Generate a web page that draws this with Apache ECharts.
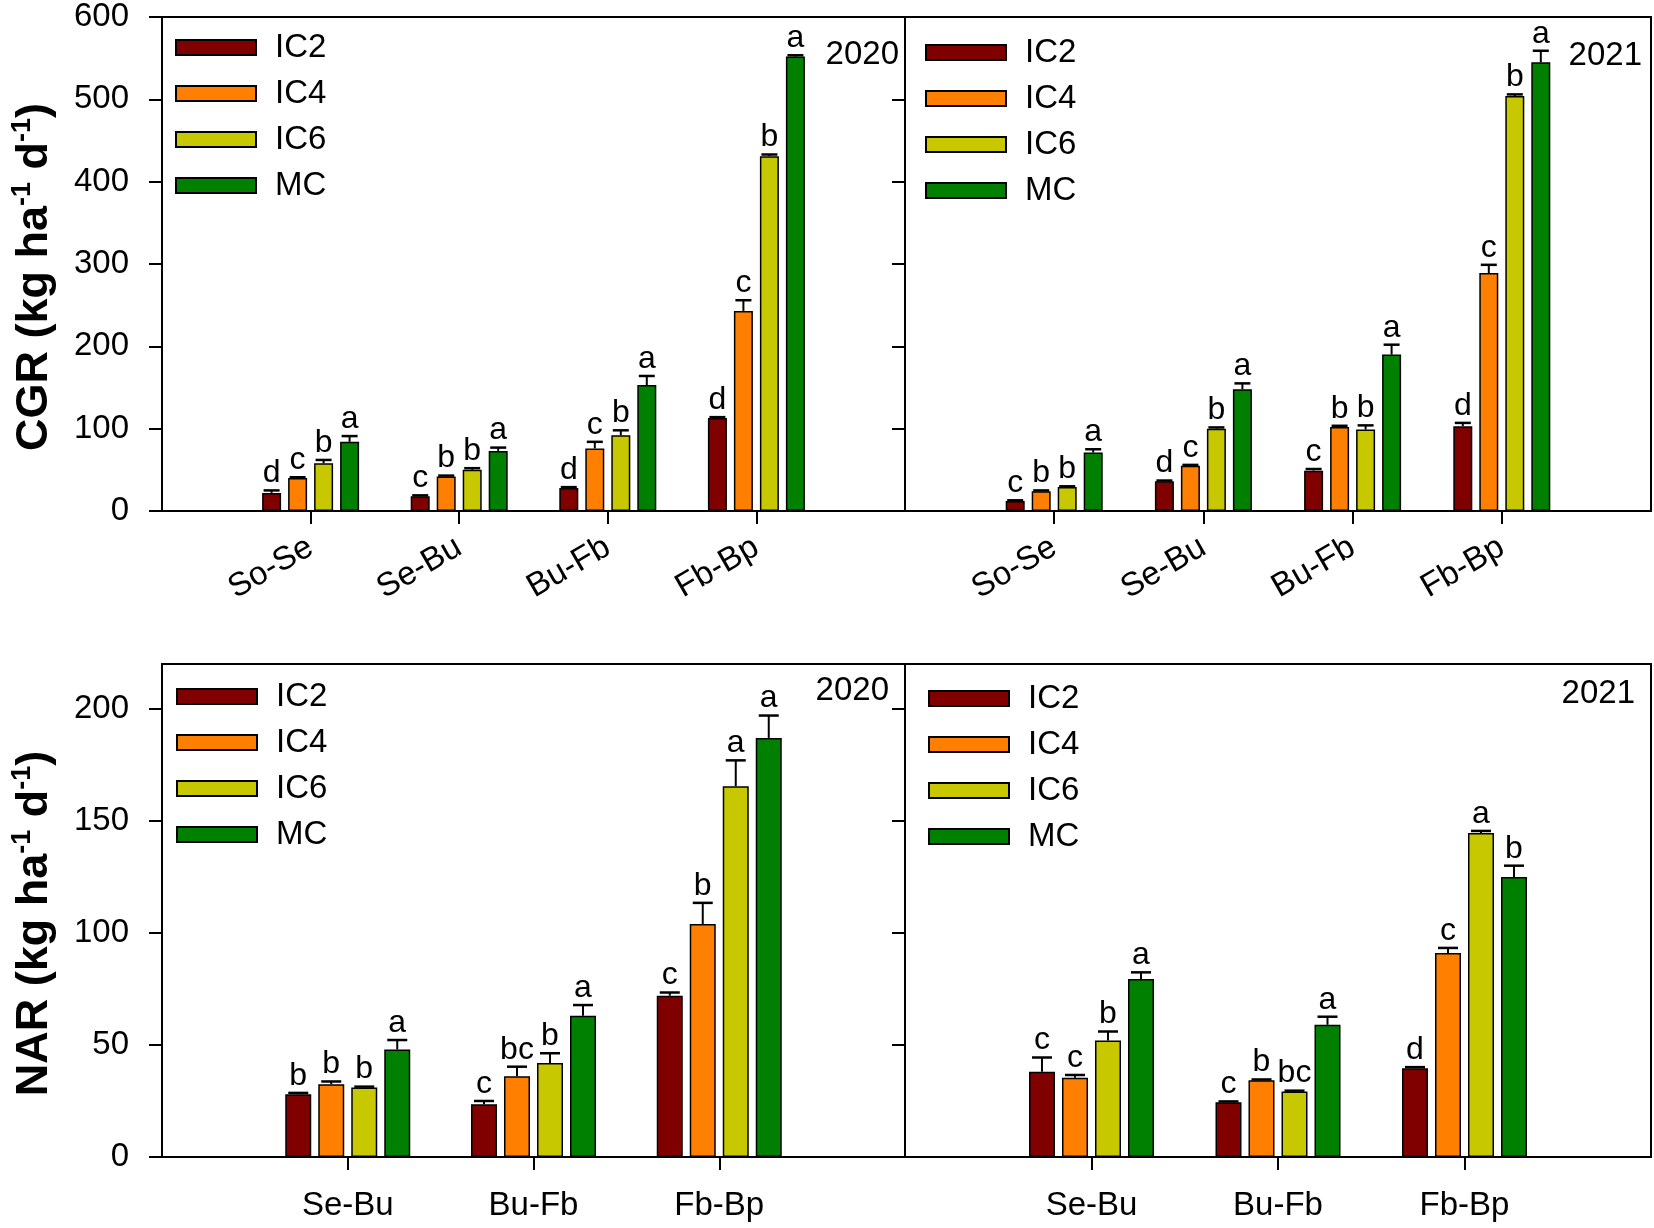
<!DOCTYPE html>
<html><head><meta charset="utf-8">
<script src="https://cdn.jsdelivr.net/npm/echarts@6/dist/echarts.min.js"></script>
<style>html,body{margin:0;padding:0;background:#fff}#chart{width:1654px;height:1228px}</style>
</head><body><div id="chart"></div>
<script>
// ---- data ----
const seriesNames = ['IC2', 'IC4', 'IC6', 'MC'];
const seriesColors = ['#800000', '#ff8000', '#c8c800', '#008000'];
const cgrCategories = ['So-Se', 'Se-Bu', 'Bu-Fb', 'Fb-Bp'];
const narCategories = ['Se-Bu', 'Bu-Fb', 'Fb-Bp'];
const cgrTicks = [0, 100, 200, 300, 400, 500, 600];
const narTicks = [0, 50, 100, 150, 200];

// rows: IC2, IC4, IC6, MC ; columns follow categories
const cgr2020Mean = [[22, 18, 28, 113], [40, 42, 76, 243], [58, 50, 92, 431], [84, 73, 153, 552]];
const cgr2020Err = [[3, 1, 1, 1], [1, 1, 8, 13], [4, 2, 6, 2], [7, 4, 11, 1.5]];
const cgr2020Letters = [['d', 'c', 'd', 'd'], ['c', 'b', 'c', 'c'], ['b', 'b', 'b', 'b'], ['a', 'a', 'a', 'a']];

const cgr2021Mean = [[12, 36, 49, 103], [24, 55, 102, 289], [29, 100, 99, 504], [71, 148, 190, 545]];
const cgr2021Err = [[1, 1, 2, 4], [1, 1, 1.5, 10], [1, 1.5, 5, 2], [4, 7, 12, 14]];
const cgr2021Letters = [['c', 'd', 'c', 'd'], ['b', 'c', 'b', 'c'], ['b', 'b', 'b', 'b'], ['a', 'a', 'a', 'a']];

const nar2020Mean = [[28, 23.5, 72], [32.5, 36, 104], [31, 42, 165.5], [48, 63, 187]];
const nar2020Err = [[0.6, 1.5, 1.4], [1.2, 4.3, 9.4], [0.4, 4.3, 11.5], [4.2, 4.8, 10]];
const nar2020Letters = [['b', 'c', 'c'], ['b', 'bc', 'b'], ['b', 'b', 'a'], ['a', 'a', 'a']];

const nar2021Mean = [[38, 24.4, 39.6], [35.4, 34.3, 91], [52, 29.2, 144.6], [79.4, 59, 125]];
const nar2021Err = [[6.4, 0.4, 0.5], [1.2, 0.3, 2.3], [4, 0.4, 0.9], [3, 3.6, 5]];
const nar2021Letters = [['c', 'c', 'd'], ['c', 'b', 'c'], ['b', 'bc', 'a'], ['a', 'a', 'b']];

// ---- layout / style ----
const FONT = "'Liberation Sans', Arial, Helvetica, sans-serif";
const TXT = 33;
const panels = [
  { grid: { left: 162, top: 17, width: 743, height: 494 }, cats: cgrCategories, mean: cgr2020Mean, err: cgr2020Err, letters: cgr2020Letters,
    max: 600, step: 100, ticks: cgrTicks, showLabels: true, title: '{t|CGR (kg ha}{s|-1}{t| d}{s|-1}{t|)}',
    barW: 19, gap: 7, cap: 16, rotate: 30, year: '2020', yearPos: [899, 55], legendPos: [170, 26] },
  { grid: { left: 905, top: 17, width: 746, height: 494 }, cats: cgrCategories, mean: cgr2021Mean, err: cgr2021Err, letters: cgr2021Letters,
    max: 600, step: 100, ticks: cgrTicks, showLabels: false, title: '',
    barW: 19, gap: 7, cap: 16, rotate: 30, year: '2021', yearPos: [1642, 56], legendPos: [920, 31] },
  { grid: { left: 162, top: 664, width: 743, height: 493 }, cats: narCategories, mean: nar2020Mean, err: nar2020Err, letters: nar2020Letters,
    max: 220, step: 50, ticks: narTicks, showLabels: true, title: '{t|NAR (kg ha}{s|-1}{t| d}{s|-1}{t|)}',
    barW: 26, gap: 7, cap: 20, rotate: 0, year: '2020', yearPos: [889, 691], legendPos: [171, 675] },
  { grid: { left: 905, top: 664, width: 746, height: 493 }, cats: narCategories, mean: nar2021Mean, err: nar2021Err, letters: nar2021Letters,
    max: 220, step: 50, ticks: narTicks, showLabels: false, title: '',
    barW: 26, gap: 7, cap: 20, rotate: 0, year: '2021', yearPos: [1635, 694], legendPos: [923, 677] }
];

const grids = [], xAxes = [], yAxes = [], series = [], legends = [], graphics = [];

panels.forEach((P, i) => {
  grids.push(Object.assign({ show: true, borderColor: '#000', borderWidth: 2, backgroundColor: 'transparent', containLabel: false }, P.grid));
  xAxes.push({
    type: 'category', gridIndex: i, data: ['', ...P.cats, ''], boundaryGap: false,
    axisLine: { lineStyle: { color: '#000', width: 2 } },
    axisTick: { show: true, length: 13, lineStyle: { color: '#000', width: 2 }, interval: (idx, val) => val !== '' },
    axisLabel: { interval: 0, rotate: P.rotate, margin: P.rotate ? 34 : 32, fontSize: TXT, color: '#000', fontFamily: FONT },
    splitLine: { show: false }
  });
  yAxes.push({
    type: 'value', gridIndex: i, min: 0, max: P.max, interval: P.step,
    axisLine: { show: true, lineStyle: { color: '#000', width: 2 } },
    axisTick: { show: true, length: 13, lineStyle: { color: '#000', width: 2 }, customValues: P.ticks },
    axisLabel: { show: P.showLabels, customValues: P.ticks, margin: 33, fontSize: TXT, color: '#000', fontFamily: FONT },
    splitLine: { show: false },
    name: P.title, nameLocation: 'middle', nameRotate: 90, nameGap: 101,
    nameTextStyle: {
      color: '#000', fontFamily: FONT, fontWeight: 'bold', padding: [0, 26, 0, 0],
      rich: {
        t: { fontSize: 45, fontWeight: 'bold', fontFamily: FONT, lineHeight: 52, color: '#000' },
        s: { fontSize: 27, fontWeight: 'bold', fontFamily: FONT, lineHeight: 30, verticalAlign: 'top', color: '#000' }
      }
    }
  });
  P.mean.forEach((vals, s) => {
    series.push({
      type: 'bar', name: seriesNames[s], xAxisIndex: i, yAxisIndex: i,
      data: [null, ...vals, null], barWidth: P.barW, barGap: (P.gap / P.barW * 100) + '%',
      itemStyle: { color: seriesColors[s], borderColor: '#000', borderWidth: 1.5 },
      emphasis: { disabled: true }, animation: false, z: 2
    });
  });
  const errData = [];
  P.mean.forEach((vals, s) => vals.forEach((v, c) => errData.push([c + 1, v + P.err[s][c], v, s])));
  series.push({
    type: 'custom', xAxisIndex: i, yAxisIndex: i, coordinateSystem: 'cartesian2d', data: errData,
    encode: { x: 0, y: 1 }, z: 5, animation: false, silent: true,
    renderItem: (params, api) => {
      const ci = api.value(0), top = api.value(1), base = api.value(2), s = api.value(3);
      const pt = api.coord([ci, top]);
      const pb = api.coord([ci, base]);
      const x = pt[0] + (s - 1.5) * (P.barW + P.gap);
      const letter = P.letters[s][ci - 1];
      return {
        type: 'group', children: [
          { type: 'line', shape: { x1: x, y1: pb[1], x2: x, y2: pt[1] }, style: { stroke: '#000', lineWidth: 2 } },
          { type: 'line', shape: { x1: x - P.cap / 2, y1: pt[1], x2: x + P.cap / 2, y2: pt[1] }, style: { stroke: '#000', lineWidth: 2.5 } },
          { type: 'text', x: x, y: pt[1] - 1, style: { text: letter, fill: '#000', fontSize: 32, fontFamily: FONT, align: 'center', verticalAlign: 'bottom' } }
        ]
      };
    }
  });
  legends.push({
    data: seriesNames, orient: 'vertical', left: P.legendPos[0], top: P.legendPos[1],
    itemWidth: 80, itemHeight: 15, itemGap: 13, icon: 'rect', selectedMode: false,
    itemStyle: { borderColor: '#000', borderWidth: 2 },
    textStyle: { fontSize: TXT, lineHeight: 33, color: '#000', fontFamily: FONT, padding: [0, 0, 0, 14] }
  });
  graphics.push({
    type: 'text', x: P.yearPos[0], y: P.yearPos[1], z: 10,
    style: { text: P.year, fill: '#000', fontSize: TXT, fontFamily: FONT, align: 'right', verticalAlign: 'middle' }
  });
});

const chart = echarts.init(document.getElementById('chart'), null, { renderer: 'canvas' });
chart.setOption({
  backgroundColor: '#fff', animation: false,
  grid: grids, xAxis: xAxes, yAxis: yAxes, series: series, legend: legends, graphic: graphics
});
</script></body></html>
